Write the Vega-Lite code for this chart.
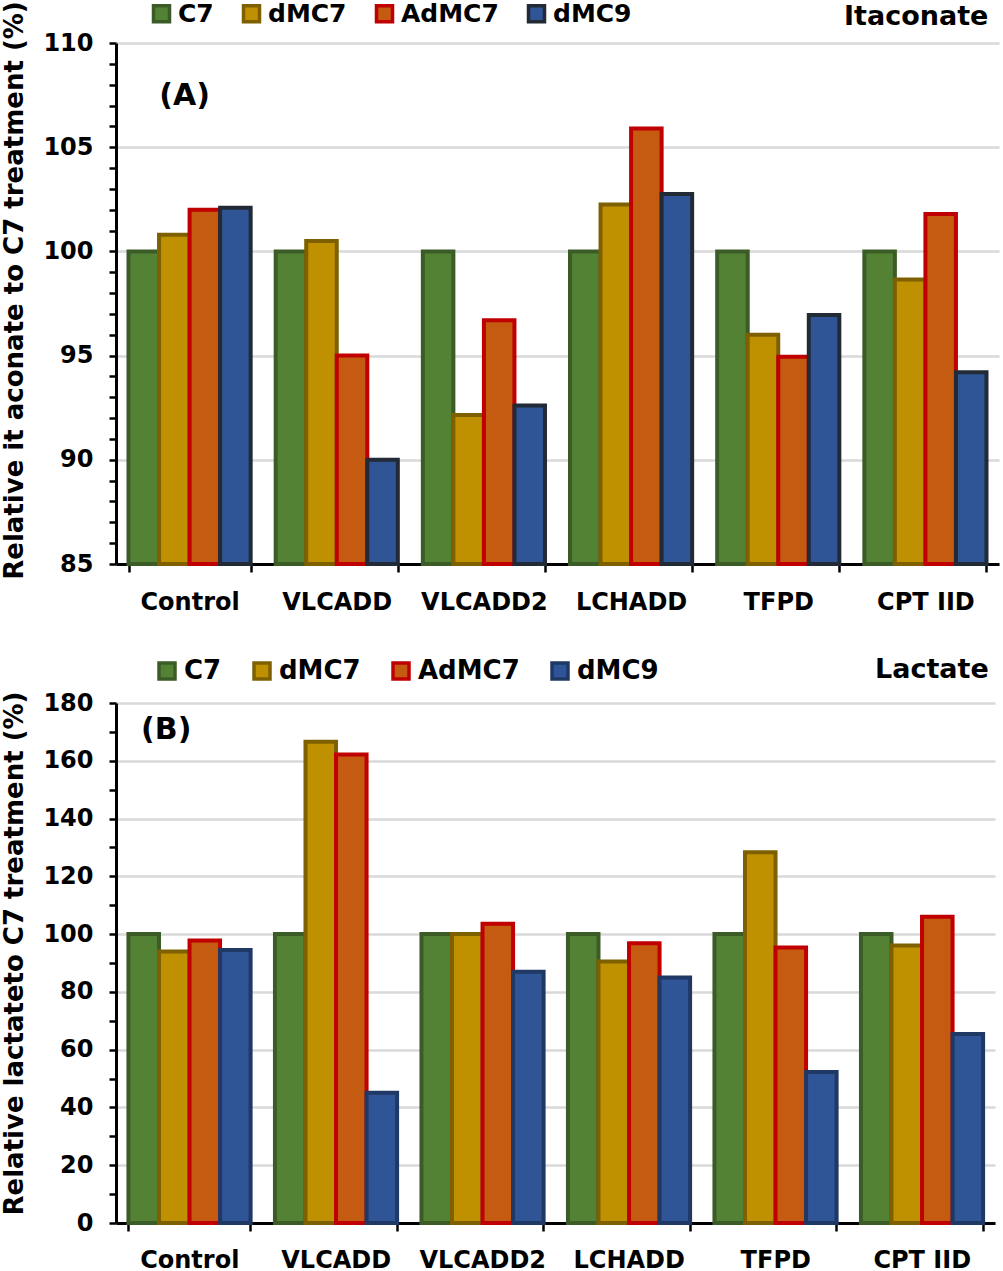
{
  "$schema": "https://vega.github.io/schema/vega-lite/v6.json",
  "background": "white",
  "padding": {"left": 1, "top": 0, "right": 3, "bottom": 0},
  "spacing": 42,
  "resolve": {"scale": {"fill": "independent", "stroke": "independent"}, "legend": {"fill": "independent", "stroke": "independent"}},
  "config": {
    "font": "DejaVu Sans",
    "view": {"stroke": null},
    "axis": {
      "labelFont": "DejaVu Sans",
      "labelFontWeight": "bold",
      "labelFontSize": 24,
      "labelColor": "black",
      "titleFont": "DejaVu Sans",
      "titleFontWeight": "bold",
      "titleFontSize": 26,
      "titleColor": "black",
      "domainColor": "black",
      "tickColor": "black",
      "domainWidth": 3,
      "tickWidth": 2.5
    },
    "legend": {
      "orient": "none",
      "direction": "horizontal",
      "title": null,
      "symbolType": "square",
      "symbolSize": 256,
      "symbolStrokeWidth": 3.5,
      "symbolOpacity": 1,
      "labelFont": "DejaVu Sans",
      "labelFontWeight": "bold",
      "labelColor": "black",
      "labelOffset": 4
    }
  },
  "datasets": {
    "itaconate": [
      {"group": "Control", "series": "C7", "value": 100},
      {"group": "Control", "series": "dMC7", "value": 100.8},
      {"group": "Control", "series": "AdMC7", "value": 102.0},
      {"group": "Control", "series": "dMC9", "value": 102.1},
      {"group": "VLCADD", "series": "C7", "value": 100},
      {"group": "VLCADD", "series": "dMC7", "value": 100.5},
      {"group": "VLCADD", "series": "AdMC7", "value": 95.0},
      {"group": "VLCADD", "series": "dMC9", "value": 90.0},
      {"group": "VLCADD2", "series": "C7", "value": 100},
      {"group": "VLCADD2", "series": "dMC7", "value": 92.15},
      {"group": "VLCADD2", "series": "AdMC7", "value": 96.7},
      {"group": "VLCADD2", "series": "dMC9", "value": 92.6},
      {"group": "LCHADD", "series": "C7", "value": 100},
      {"group": "LCHADD", "series": "dMC7", "value": 102.25},
      {"group": "LCHADD", "series": "AdMC7", "value": 105.9},
      {"group": "LCHADD", "series": "dMC9", "value": 102.75},
      {"group": "TFPD", "series": "C7", "value": 100},
      {"group": "TFPD", "series": "dMC7", "value": 96.0},
      {"group": "TFPD", "series": "AdMC7", "value": 94.95},
      {"group": "TFPD", "series": "dMC9", "value": 96.95},
      {"group": "CPT IID", "series": "C7", "value": 100},
      {"group": "CPT IID", "series": "dMC7", "value": 98.65},
      {"group": "CPT IID", "series": "AdMC7", "value": 101.8},
      {"group": "CPT IID", "series": "dMC9", "value": 94.2}
    ],
    "lactate": [
      {"group": "Control", "series": "C7", "value": 100},
      {"group": "Control", "series": "dMC7", "value": 94.0},
      {"group": "Control", "series": "AdMC7", "value": 97.8},
      {"group": "Control", "series": "dMC9", "value": 94.5},
      {"group": "VLCADD", "series": "C7", "value": 100},
      {"group": "VLCADD", "series": "dMC7", "value": 166.6},
      {"group": "VLCADD", "series": "AdMC7", "value": 162.2},
      {"group": "VLCADD", "series": "dMC9", "value": 45.1},
      {"group": "VLCADD2", "series": "C7", "value": 100},
      {"group": "VLCADD2", "series": "dMC7", "value": 100},
      {"group": "VLCADD2", "series": "AdMC7", "value": 103.6},
      {"group": "VLCADD2", "series": "dMC9", "value": 87.0},
      {"group": "LCHADD", "series": "C7", "value": 100},
      {"group": "LCHADD", "series": "dMC7", "value": 90.5},
      {"group": "LCHADD", "series": "AdMC7", "value": 96.8},
      {"group": "LCHADD", "series": "dMC9", "value": 85.0},
      {"group": "TFPD", "series": "C7", "value": 100},
      {"group": "TFPD", "series": "dMC7", "value": 128.3},
      {"group": "TFPD", "series": "AdMC7", "value": 95.4},
      {"group": "TFPD", "series": "dMC9", "value": 52.3},
      {"group": "CPT IID", "series": "C7", "value": 100},
      {"group": "CPT IID", "series": "dMC7", "value": 96.1},
      {"group": "CPT IID", "series": "AdMC7", "value": 106.0},
      {"group": "CPT IID", "series": "dMC9", "value": 65.4}
    ]
  },
  "vconcat": [
    {
      "width": 883,
      "height": 521,
      "resolve": {"axis": {"y": "independent"}},
      "layer": [
        {
          "data": {"name": "itaconate"},
          "mark": {"type": "bar", "strokeWidth": 4, "strokeJoin": "miter", "fillOpacity": 1},
          "encoding": {
            "x": {
              "field": "group", "type": "nominal",
              "sort": ["Control", "VLCADD", "VLCADD2", "LCHADD", "TFPD", "CPT IID"],
              "scale": {"paddingInner": 0.17, "paddingOuter": 0.085},
              "axis": {"title": null, "labelAngle": 0, "tickBand": "extent", "tickSize": 8, "labelPadding": 18, "grid": false}
            },
            "xOffset": {"field": "series", "type": "nominal", "sort": ["C7", "dMC7", "AdMC7", "dMC9"], "scale": {"paddingInner": 0, "paddingOuter": 0}},
            "y": {
              "field": "value", "type": "quantitative",
              "scale": {"domain": [85, 110], "zero": false, "nice": false},
              "axis": {
                "orient": "left",
                "title": "Relative it aconate to C7 treatment (%)",
                "titleY": 247,
                "values": [85, 90, 95, 100, 105, 110],
                "labelOverlap": false,
                "tickSize": 7,
                "labelPadding": 16,
                "titlePadding": 15,
                "grid": true,
                "gridColor": "#d9d9d9",
                "gridWidth": 2.5
              }
            },
            "y2": {"datum": 85},
            "fill": {
              "field": "series", "type": "nominal",
              "scale": {"domain": ["C7", "dMC7", "AdMC7", "dMC9"], "range": ["#548235", "#BF9000", "#C55A11", "#2F5597"]},
              "legend": {"legendX": 33, "legendY": -42, "columnPadding": 22, "labelFontSize": 25}
            },
            "stroke": {
              "field": "series", "type": "nominal",
              "scale": {"domain": ["C7", "dMC7", "AdMC7", "dMC9"], "range": ["#3B5C27", "#7F6000", "#C00000", "#222A35"]},
              "legend": {"legendX": 33, "legendY": -42, "columnPadding": 22, "labelFontSize": 25}
            }
          }
        },
        {
          "data": {"values": [{"group": "Control", "y": 107.45, "label": "(A)"}]},
          "mark": {"type": "text", "fontSize": 30, "fontWeight": "bold", "font": "DejaVu Sans", "color": "black", "align": "center", "baseline": "middle", "dx": -5},
          "encoding": {
            "x": {"field": "group", "type": "nominal", "sort": ["Control", "VLCADD", "VLCADD2", "LCHADD", "TFPD", "CPT IID"]},
            "y": {
              "field": "y", "type": "quantitative",
              "axis": {
                "orient": "left", "title": null, "labels": false, "domain": false, "grid": false,
                "values": [86,87,88,89,91,92,93,94,96,97,98,99,101,102,103,104,106,107,108,109],
                "tickSize": 7
              }
            },
            "text": {"field": "label"}
          }
        },
        {
          "data": {"values": [{"group": "CPT IID", "y": 111.25, "label": "Itaconate"}]},
          "mark": {"type": "text", "fontSize": 27, "fontWeight": "bold", "font": "DejaVu Sans", "color": "black", "align": "right", "baseline": "middle", "dx": 63},
          "encoding": {
            "x": {"field": "group", "type": "nominal", "sort": ["Control", "VLCADD", "VLCADD2", "LCHADD", "TFPD", "CPT IID"]},
            "y": {"field": "y", "type": "quantitative", "axis": null},
            "text": {"field": "label"}
          }
        }
      ]
    },
    {
      "width": 879,
      "height": 520,
      "resolve": {"axis": {"y": "independent"}},
      "layer": [
        {
          "data": {"name": "lactate"},
          "mark": {"type": "bar", "strokeWidth": 4, "strokeJoin": "miter", "fillOpacity": 1},
          "encoding": {
            "x": {
              "field": "group", "type": "nominal",
              "sort": ["Control", "VLCADD", "VLCADD2", "LCHADD", "TFPD", "CPT IID"],
              "scale": {"paddingInner": 0.17, "paddingOuter": 0.085},
              "axis": {"title": null, "labelAngle": 0, "tickBand": "extent", "tickSize": 8, "labelPadding": 17, "grid": false}
            },
            "xOffset": {"field": "series", "type": "nominal", "sort": ["C7", "dMC7", "AdMC7", "dMC9"], "scale": {"paddingInner": 0, "paddingOuter": 0}},
            "y": {
              "field": "value", "type": "quantitative",
              "scale": {"domain": [0, 180], "nice": false},
              "axis": {
                "orient": "left",
                "title": "Relative lactateto C7 treatment (%)",
                "titleY": 250,
                "values": [0, 20, 40, 60, 80, 100, 120, 140, 160, 180],
                "labelOverlap": false,
                "tickSize": 7,
                "labelPadding": 16,
                "titlePadding": 15,
                "grid": true,
                "gridColor": "#d9d9d9",
                "gridWidth": 2.5
              }
            },
            "fill": {
              "field": "series", "type": "nominal",
              "scale": {"domain": ["C7", "dMC7", "AdMC7", "dMC9"], "range": ["#548235", "#BF9000", "#C55A11", "#2F5597"]},
              "legend": {"legendX": 38, "legendY": -45, "columnPadding": 25, "labelFontSize": 26}
            },
            "stroke": {
              "field": "series", "type": "nominal",
              "scale": {"domain": ["C7", "dMC7", "AdMC7", "dMC9"], "range": ["#3B5C27", "#7F6000", "#C00000", "#203864"]},
              "legend": {"legendX": 38, "legendY": -45, "columnPadding": 25, "labelFontSize": 26}
            }
          }
        },
        {
          "data": {"values": [{"group": "Control", "y": 170.6, "label": "(B)"}]},
          "mark": {"type": "text", "fontSize": 30, "fontWeight": "bold", "font": "DejaVu Sans", "color": "black", "align": "center", "baseline": "middle", "dx": -23},
          "encoding": {
            "x": {"field": "group", "type": "nominal", "sort": ["Control", "VLCADD", "VLCADD2", "LCHADD", "TFPD", "CPT IID"]},
            "y": {
              "field": "y", "type": "quantitative",
              "axis": {
                "orient": "left", "title": null, "labels": false, "domain": false, "grid": false,
                "values": [10, 30, 50, 70, 90, 110, 130, 150, 170],
                "tickSize": 7
              }
            },
            "text": {"field": "label"}
          }
        },
        {
          "data": {"values": [{"group": "CPT IID", "y": 191.4, "label": "Lactate"}]},
          "mark": {"type": "text", "fontSize": 27, "fontWeight": "bold", "font": "DejaVu Sans", "color": "black", "align": "right", "baseline": "middle", "dx": 67},
          "encoding": {
            "x": {"field": "group", "type": "nominal", "sort": ["Control", "VLCADD", "VLCADD2", "LCHADD", "TFPD", "CPT IID"]},
            "y": {"field": "y", "type": "quantitative", "axis": null},
            "text": {"field": "label"}
          }
        }
      ]
    }
  ]
}
